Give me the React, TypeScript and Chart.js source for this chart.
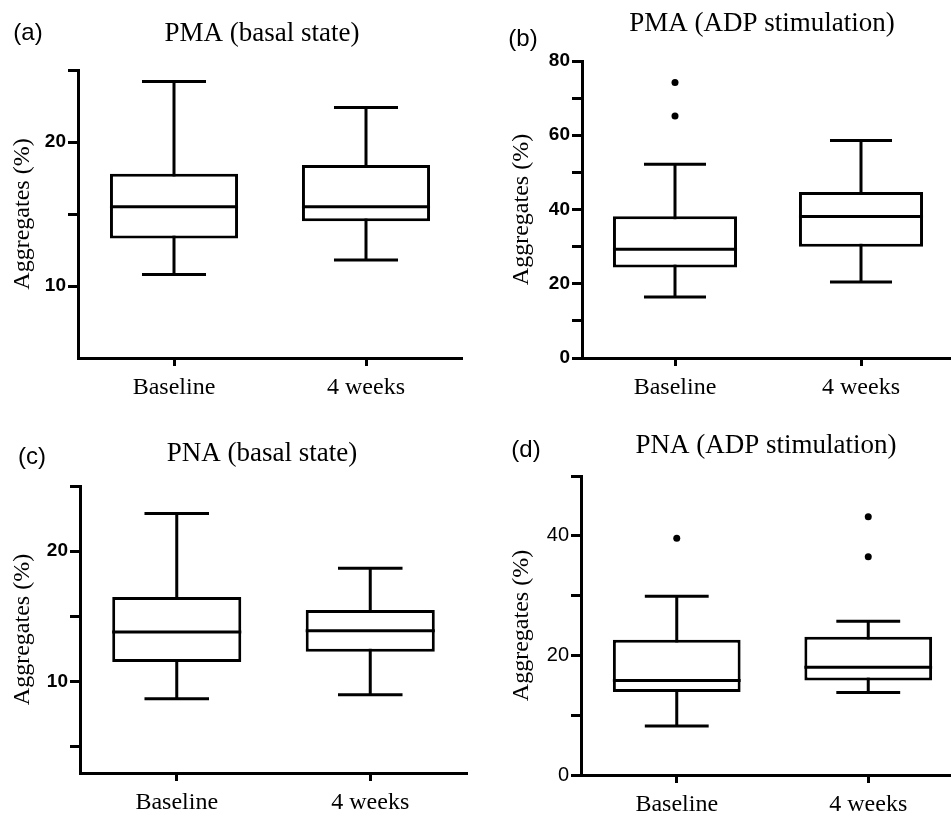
import React, { useEffect, useRef } from 'react';
import { Chart, registerables } from 'chart.js';

Chart.register(...registerables);

const categories = ['Baseline', '4 weeks'];
const yAxisTitle = 'Aggregates (%)';

// (a) PMA (basal state)
const pmaBasalLow = [10.8, 11.8];
const pmaBasalQ1 = [13.3, 14.5];
const pmaBasalMedian = [15.5, 15.5];
const pmaBasalQ3 = [17.8, 18.4];
const pmaBasalHigh = [24.2, 22.4];
const pmaBasalOutliers: [number, number][] = [];
const pmaBasalTicks = [10, 15, 20, 25];
const pmaBasalTickLabels = [10, 20];

// (b) PMA (ADP stimulation)
const pmaAdpLow = [16.4, 20.5];
const pmaAdpQ1 = [24.4, 30.0];
const pmaAdpMedian = [29.3, 38.1];
const pmaAdpQ3 = [38.2, 44.7];
const pmaAdpHigh = [52.2, 58.6];
const pmaAdpOutliers: [number, number][] = [[0, 74.2], [0, 65.2]];
const pmaAdpTicks = [0, 10, 20, 30, 40, 50, 60, 70, 80];
const pmaAdpTickLabels = [0, 20, 40, 60, 80];

// (c) PNA (basal state)
const pnaBasalLow = [8.7, 9.0];
const pnaBasalQ1 = [11.5, 12.3];
const pnaBasalMedian = [13.8, 13.9];
const pnaBasalQ3 = [16.5, 15.5];
const pnaBasalHigh = [22.9, 18.7];
const pnaBasalOutliers: [number, number][] = [];
const pnaBasalTicks = [5, 10, 15, 20, 25];
const pnaBasalTickLabels = [10, 20];

// (d) PNA (ADP stimulation)
const pnaAdpLow = [8.2, 13.8];
const pnaAdpQ1 = [13.9, 15.8];
const pnaAdpMedian = [15.8, 18.0];
const pnaAdpQ3 = [22.6, 23.1];
const pnaAdpHigh = [29.9, 25.7];
const pnaAdpOutliers: [number, number][] = [[0, 39.6], [1, 43.2], [1, 36.5]];
const pnaAdpTicks = [0, 10, 20, 30, 40, 50];
const pnaAdpTickLabels = [0, 20, 40];

type PanelCfg = {
  label: string;
  title: string;
  low: number[]; q1: number[]; median: number[]; q3: number[]; high: number[];
  outliers: [number, number][];
  ticks: number[]; tickLabels: number[];
  yMin: number; yMax: number;
  boldTicks: boolean;
  // layout / style
  left: number; top: number; width: number; height: number;
  padTop: number; padRight: number; yWidth: number; xHeight: number;
  titleX: number; titleY: number; labelX: number; labelY: number;
  yTitlePad: number;
};

const panels: PanelCfg[] = [
  {
    label: '(a)', title: 'PMA (basal state)',
    low: pmaBasalLow, q1: pmaBasalQ1, median: pmaBasalMedian, q3: pmaBasalQ3, high: pmaBasalHigh,
    outliers: pmaBasalOutliers, ticks: pmaBasalTicks, tickLabels: pmaBasalTickLabels,
    yMin: 5, yMax: 25, boldTicks: true,
    left: 0, top: 0, width: 475, height: 400,
    padTop: 70, padRight: 13, yWidth: 78, xHeight: 42,
    titleX: 262, titleY: 34, labelX: 28, labelY: 33, yTitlePad: 8,
  },
  {
    label: '(b)', title: 'PMA (ADP stimulation)',
    low: pmaAdpLow, q1: pmaAdpQ1, median: pmaAdpMedian, q3: pmaAdpQ3, high: pmaAdpHigh,
    outliers: pmaAdpOutliers, ticks: pmaAdpTicks, tickLabels: pmaAdpTickLabels,
    yMin: 0, yMax: 80, boldTicks: true,
    left: 475, top: 0, width: 500, height: 400,
    padTop: 61, padRight: 21, yWidth: 107, xHeight: 42,
    titleX: 287, titleY: 24, labelX: 48, labelY: 39, yTitlePad: 32,
  },
  {
    label: '(c)', title: 'PNA (basal state)',
    low: pnaBasalLow, q1: pnaBasalQ1, median: pnaBasalMedian, q3: pnaBasalQ3, high: pnaBasalHigh,
    outliers: pnaBasalOutliers, ticks: pnaBasalTicks, tickLabels: pnaBasalTickLabels,
    yMin: 3, yMax: 25, boldTicks: true,
    left: 0, top: 400, width: 475, height: 419,
    padTop: 86, padRight: 8, yWidth: 80, xHeight: 46,
    titleX: 262, titleY: 54, labelX: 32, labelY: 57, yTitlePad: 8.5,
  },
  {
    label: '(d)', title: 'PNA (ADP stimulation)',
    low: pnaAdpLow, q1: pnaAdpQ1, median: pnaAdpMedian, q3: pnaAdpQ3, high: pnaAdpHigh,
    outliers: pnaAdpOutliers, ticks: pnaAdpTicks, tickLabels: pnaAdpTickLabels,
    yMin: 0, yMax: 50, boldTicks: false,
    left: 475, top: 400, width: 500, height: 419,
    padTop: 76, padRight: 11, yWidth: 106, xHeight: 44,
    titleX: 291, titleY: 46, labelX: 51, labelY: 50, yTitlePad: 32,
  },
];

function Panel({ cfg }: { cfg: PanelCfg }) {
  const ref = useRef<HTMLCanvasElement | null>(null);
  useEffect(() => {
    if (!ref.current) return;

    const boxWhisker = {
      id: 'boxWhisker',
      beforeDatasetsDraw(chart: any) {
        const meta = chart.getDatasetMeta(0);
        const ys = chart.scales.y;
        const ctx = chart.ctx;
        ctx.save();
        ctx.strokeStyle = '#000';
        ctx.lineWidth = 3;
        meta.data.forEach((bar: any, i: number) => {
          const x = bar.x;
          const cap = bar.width / 4;
          const yl = ys.getPixelForValue(cfg.low[i]);
          const yh = ys.getPixelForValue(cfg.high[i]);
          ctx.beginPath();
          ctx.moveTo(x, yl); ctx.lineTo(x, yh);
          ctx.moveTo(x - cap, yl); ctx.lineTo(x + cap, yl);
          ctx.moveTo(x - cap, yh); ctx.lineTo(x + cap, yh);
          ctx.stroke();
        });
        ctx.restore();
      },
      afterDatasetsDraw(chart: any) {
        const meta = chart.getDatasetMeta(0);
        const ys = chart.scales.y;
        const ctx = chart.ctx;
        ctx.save();
        ctx.strokeStyle = '#000';
        ctx.lineWidth = 3;
        meta.data.forEach((bar: any, i: number) => {
          const ym = ys.getPixelForValue(cfg.median[i]);
          ctx.beginPath();
          ctx.moveTo(bar.x - bar.width / 2, ym);
          ctx.lineTo(bar.x + bar.width / 2, ym);
          ctx.stroke();
        });
        ctx.restore();
      },
    };

    const panelText = {
      id: 'panelText',
      afterDraw(chart: any) {
        const ctx = chart.ctx;
        ctx.save();
        ctx.fillStyle = '#000';
        ctx.textAlign = 'center';
        ctx.textBaseline = 'middle';
        ctx.font = '27px "Liberation Serif"';
        ctx.fillText(cfg.title, cfg.titleX, cfg.titleY);
        ctx.font = '24px "Liberation Sans"';
        ctx.fillText(cfg.label, cfg.labelX, cfg.labelY);
        ctx.restore();
      },
    };

    const datasets: any[] = [
      {
        type: 'bar',
        data: categories.map((_, i) => [cfg.q1[i], cfg.q3[i]]),
        backgroundColor: '#fff',
        borderColor: '#000',
        borderWidth: 3,
        borderSkipped: false,
        barPercentage: 0.667,
        categoryPercentage: 1,
        grouped: false,
        order: 2,
      },
    ];
    if (cfg.outliers.length) {
      datasets.push({
        type: 'line',
        data: cfg.outliers.map(([i, v]) => ({ x: categories[i], y: v })),
        showLine: false,
        pointRadius: 3.5,
        pointBackgroundColor: '#000',
        pointBorderColor: '#000',
        pointBorderWidth: 0,
        order: 1,
      });
    }

    const chart = new Chart(ref.current, {
      type: 'bar',
      data: { labels: categories, datasets },
      plugins: [boxWhisker, panelText],
      options: {
        animation: false,
        responsive: false,
        events: [],
        layout: { padding: { top: cfg.padTop, right: cfg.padRight, left: 0, bottom: 0 } },
        plugins: {
          legend: { display: false },
          tooltip: { enabled: false },
          title: { display: false },
        },
        scales: {
          x: {
            type: 'category',
            offset: true,
            grid: {
              display: true,
              drawOnChartArea: false,
              drawTicks: true,
              tickLength: 8,
              tickWidth: 3,
              tickColor: '#000',
              offset: false,
            },
            border: { display: true, width: 3, color: '#000' },
            ticks: {
              font: { family: 'Liberation Serif', size: 24 },
              color: '#000',
              padding: 7,
              maxRotation: 0,
              autoSkip: false,
            },
            afterFit: (s: any) => { s.height = cfg.xHeight; },
          },
          y: {
            type: 'linear',
            min: cfg.yMin,
            max: cfg.yMax,
            afterBuildTicks: (s: any) => { s.ticks = cfg.ticks.map((v) => ({ value: v })); },
            grid: {
              display: true,
              drawOnChartArea: false,
              drawTicks: true,
              tickLength: 10,
              tickWidth: 3,
              tickColor: '#000',
            },
            border: { display: true, width: 3, color: '#000' },
            ticks: {
              autoSkip: false,
              padding: 2,
              color: '#000',
              font: { family: 'Liberation Sans', size: cfg.boldTicks ? 19 : 20, weight: cfg.boldTicks ? 'bold' : 'normal' },
              callback: (v: any) => (cfg.tickLabels.includes(Number(v)) ? String(v) : ''),
            },
            title: {
              display: true,
              text: yAxisTitle,
              color: '#000',
              font: { family: 'Liberation Serif', size: 24 },
              padding: { top: cfg.yTitlePad, bottom: 0 },
            },
            afterFit: (s: any) => { s.width = cfg.yWidth; },
          },
        },
      } as any,
    });
    return () => chart.destroy();
  }, [cfg]);

  return (
    <canvas
      ref={ref}
      width={cfg.width}
      height={cfg.height}
      style={{ position: 'absolute', left: cfg.left, top: cfg.top, width: cfg.width, height: cfg.height }}
    />
  );
}

export default function App() {
  return (
    <div
      style={{
        position: 'fixed', left: 0, top: 0, width: 951, height: 819,
        overflow: 'hidden', background: '#fff',
      }}
    >
      {panels.map((p) => (
        <Panel key={p.label} cfg={p} />
      ))}
    </div>
  );
}
